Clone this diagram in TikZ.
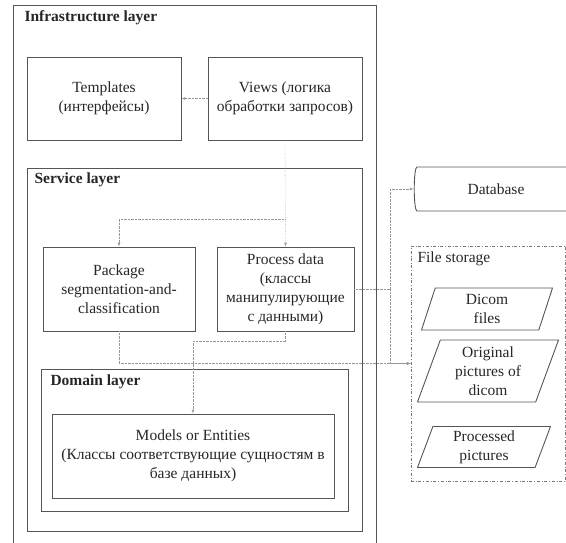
\documentclass[tikz,border=0pt]{standalone}
\usepackage{fontspec}
\setmainfont{Liberation Serif}
\usetikzlibrary{shapes.geometric}
\definecolor{linegray}{RGB}{85,85,85}
\definecolor{dotgray}{RGB}{150,150,150}
\begin{document}
\begin{tikzpicture}[x=1pt,y=-1pt,
    every node/.style={font=\fontsize{15.5}{19}\selectfont, text=black!85},
    frame/.style={draw=linegray, line width=0.9pt},
    box/.style={frame, align=center, inner sep=1pt},
    layer/.style={anchor=west, font=\fontsize{15.5}{19}\selectfont\bfseries},
    link/.style={draw=dotgray, densely dotted, -latex},
    slanted/.style={trapezium, trapezium left angle=65, trapezium right angle=115,
      trapezium stretches body, frame, align=center, inner sep=0pt}]
  \useasboundingbox (0,0) rectangle (566,542);
  % layers
  \draw[frame] (13,548) |- (376,5) -- (376,548);
  \draw[frame] (27,168) rectangle (362,531);
  \draw[frame] (41,369) rectangle (348,511);
  \node[layer] (infra) at (21,18) {Infrastructure layer};
  \node[layer] (svc) at (31,180) {Service layer};
  \node[layer] (dom) at (47,382) {Domain layer};
  % boxes
  \node[box, minimum width=154, minimum height=83] (tpl) at (104,98.5) {Templates\\(интерфейсы)};
  \node[box, minimum width=154, minimum height=83] (views) at (285,98.5) {Views (логика\\обработки запросов)};
  \node[box, minimum width=152, minimum height=84] (pkg) at (119,289) {Package\\segmentation-and-\\classification};
  \node[box, minimum width=137, minimum height=84] (proc) at (285.5,289) {Process data\\(классы\\манипулирующие\\с данными)};
  \node[box, minimum width=282, minimum height=84] (models) at (193,456) {Models or Entities\\(Классы соответствующие сущностям в\\базе данных)};
  % storage
  \node[cylinder, frame, aspect=0.3, minimum height=168, minimum width=44] (db) at (496,189) {Database};
  \node[draw=dotgray!80!black, dash dot, minimum width=154, minimum height=235] (store) at (488,363.5) {};
  \node[anchor=west] (storelbl) at (414,259) {File storage};
  \node[slanted, minimum width=131, minimum height=42] (dicom) at (487,309) {Dicom\\files};
  \node[slanted, minimum width=141, minimum height=62] (orig) at (488,371) {Original\\pictures of\\dicom};
  \node[slanted, minimum width=133, minimum height=41] (pics) at (484,447) {Processed\\pictures};
  % links
  \draw[link] (views) -- (tpl);
  \draw[link] (views.south) -- (proc.north);
  \draw[link] (views.south) ++(0,79) -| (pkg.north);
  \draw[link] (proc.south) -- ++(0,10) -| (models.north);
  \draw[link] (proc.east) -- ++(36,0) coordinate (jn) |- (db.west);
  \draw[link] (jn) |- (store.west);
  \draw[link] (pkg.south) |- (store.west);
\end{tikzpicture}
\end{document}
